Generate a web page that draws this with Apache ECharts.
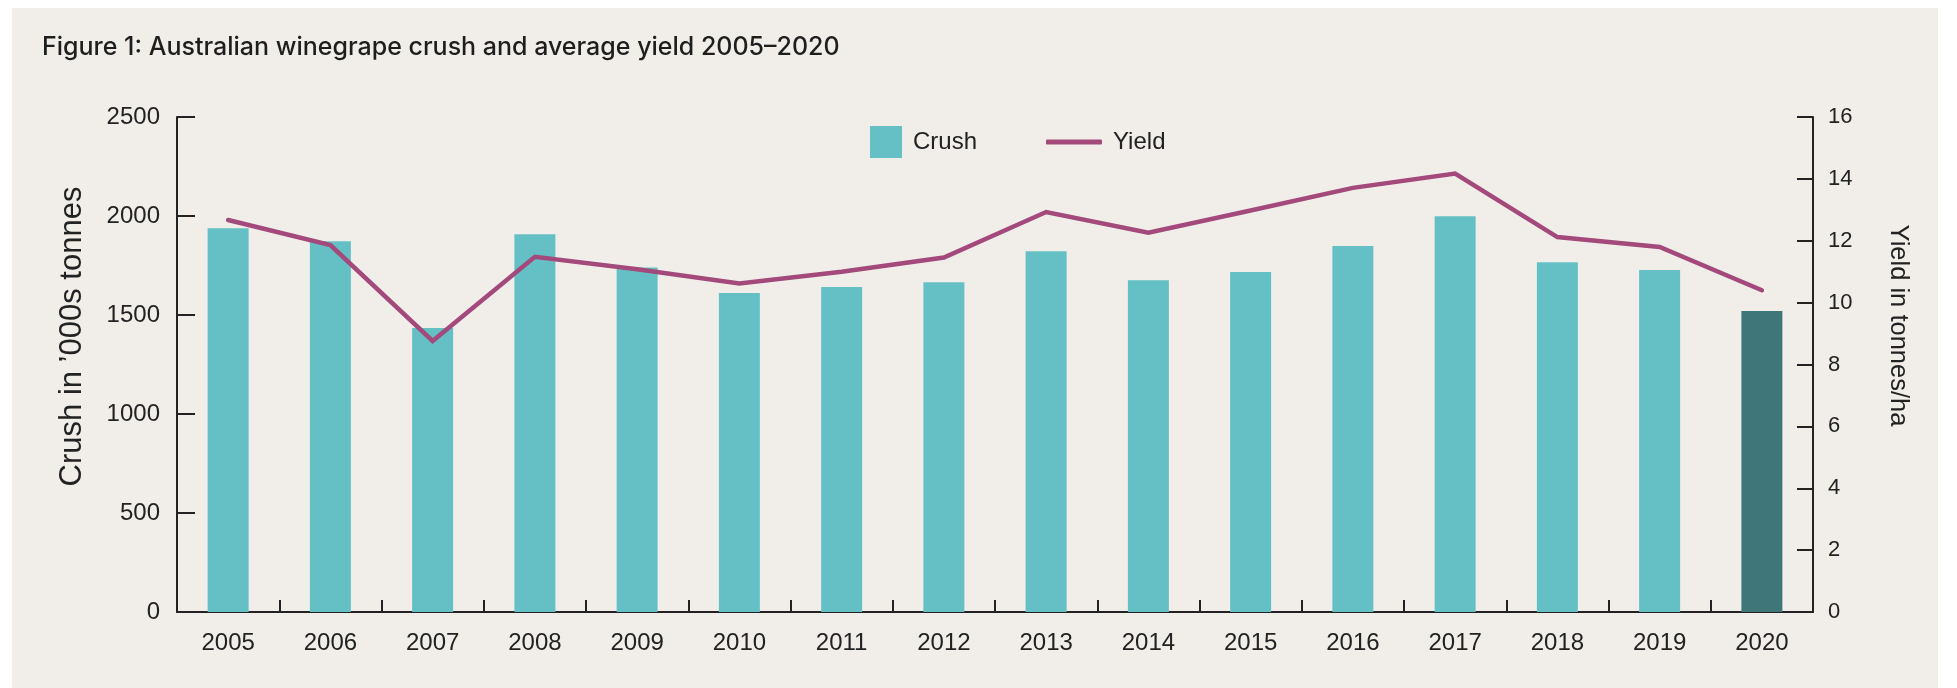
<!DOCTYPE html>
<html>
<head>
<meta charset="utf-8">
<script src="https://cdn.jsdelivr.net/npm/echarts@6/dist/echarts.min.js"></script>
<style>
html,body{margin:0;padding:0;background:#ffffff;}
#chart{width:1957px;height:688px;}
</style>
</head>
<body>
<div id="chart"></div>
<script>
const years = ['2005','2006','2007','2008','2009','2010','2011','2012','2013','2014','2015','2016','2017','2018','2019','2020'];
const crush = [1938, 1873, 1434, 1908, 1740, 1611, 1641, 1666, 1822, 1676, 1717, 1848, 1999, 1767, 1727, 1520];
const yieldVals = [12.67, 11.86, 8.76, 11.48, 11.08, 10.62, 11.0, 11.46, 12.93, 12.26, 12.98, 13.71, 14.17, 12.12, 11.8, 10.4];
const highlightYear = '2020';
const titleText = 'Figure 1: Australian winegrape crush and average yield 2005\u20132020';
const leftAxisName = 'Crush in \u2019000s tonnes';
const rightAxisName = 'Yield in tonnes/ha';

const chart = echarts.init(document.getElementById('chart'), null, {renderer: 'canvas'});
const axisColor = '#222222';
const labelFont = '"Liberation Sans", Arial, sans-serif';

const crushData = crush.map((v, i) => years[i] === highlightYear ? {value: v, itemStyle: {color: '#3E7679'}} : v);

chart.setOption({
  backgroundColor: '#ffffff',
  animation: false,
  graphic: [
    {type: 'rect', shape: {x: 12, y: 8, width: 1926, height: 680}, style: {fill: '#F1EEEA'}, z: -10, silent: true},
    {type: 'text', left: 42, top: 35, style: {text: titleText, font: '500 25px "Inter", sans-serif', fill: '#1e1e1e'}}
  ],
  legend: [
    {data: ['Crush'], left: 865, top: 121, itemWidth: 32, itemHeight: 32, itemGap: 0,
     textStyle: {fontSize: 24, color: '#222', fontFamily: labelFont, padding: [0,0,0,6]}, icon: 'rect'},
    {data: ['Yield'], left: 1041, top: 125, itemWidth: 56, itemHeight: 5,
     textStyle: {fontSize: 24, color: '#222', fontFamily: labelFont, padding: [0,0,0,6]}, icon: 'roundRect'}
  ],
  grid: {left: 177, right: 144, top: 117, bottom: 76, containLabel: false},
  xAxis: {
    type: 'category', data: years, boundaryGap: true,
    axisLine: {lineStyle: {color: axisColor, width: 2}},
    axisTick: {show: true, inside: true, length: 12, lineStyle: {color: axisColor, width: 2}},
    axisLabel: {fontSize: 24, color: '#222', fontFamily: labelFont, margin: 19}
  },
  yAxis: [
    {
      type: 'value', min: 0, max: 2500, interval: 500, position: 'left',
      name: leftAxisName, nameLocation: 'middle', nameGap: 89, nameRotate: 90,
      nameTextStyle: {fontSize: 31, color: '#222', fontFamily: labelFont, padding: [0,0,0,56]},
      axisLine: {show: true, lineStyle: {color: axisColor, width: 2}},
      axisTick: {show: true, inside: true, length: 18, lineStyle: {color: axisColor, width: 2}},
      axisLabel: {fontSize: 24, color: '#222', fontFamily: labelFont, margin: 17, formatter: v => String(v)},
      splitLine: {show: false}
    },
    {
      type: 'value', min: 0, max: 16, interval: 2, position: 'right',
      name: rightAxisName, nameLocation: 'middle', nameGap: 72, nameRotate: -90,
      nameTextStyle: {fontSize: 25.5, color: '#222', fontFamily: labelFont, padding: [0,78,0,0]},
      axisLine: {show: true, lineStyle: {color: axisColor, width: 2}},
      axisTick: {show: true, inside: true, length: 16, lineStyle: {color: axisColor, width: 2}},
      axisLabel: {fontSize: 22, color: '#222', fontFamily: labelFont, margin: 15},
      splitLine: {show: false}
    }
  ],
  series: [
    {name: 'Crush', type: 'bar', yAxisIndex: 0, data: crushData, barWidth: 41,
     itemStyle: {color: '#64C0C5'}},
    {name: 'Yield', type: 'line', yAxisIndex: 1, data: yieldVals, showSymbol: false, symbol: 'none',
     lineStyle: {color: '#A4497B', width: 4.5, cap: 'round', join: 'miter'}, itemStyle: {color: '#A4497B'}, z: 5}
  ]
});
</script>
</body>
</html>
